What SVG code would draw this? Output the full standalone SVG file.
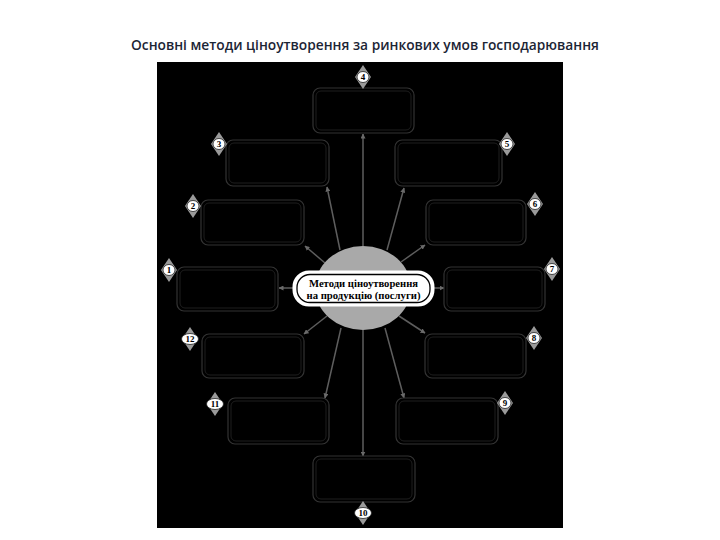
<svg xmlns="http://www.w3.org/2000/svg" width="720" height="540" viewBox="0 0 720 540">
<defs>
<style>
.title{font-family:"Open Sans","Liberation Sans",sans-serif;font-size:15px;font-weight:600;fill:#1c2535}
.box{fill:#000;stroke:#333;stroke-width:1.2}
.inner{fill:none;stroke:#1e1e1e;stroke-width:1}
.conn{stroke:#5e5e5e;stroke-width:1.5;fill:none}
.dia{fill:#9a9a9a}
.oval{fill:#fff;stroke:#222;stroke-width:0.8}
.num{font-family:"Liberation Serif",serif;font-size:9px;font-weight:bold;fill:#000;text-anchor:middle}
.lbl{font-family:"Liberation Serif",serif;font-size:11px;font-weight:bold;fill:#000;text-anchor:middle}
</style>
<marker id="arr" viewBox="0 0 10 10" refX="9" refY="5" markerWidth="5" markerHeight="5" orient="auto" markerUnits="userSpaceOnUse">
<path d="M0,0 L10,5 L0,10 z" fill="#6a6a6a"/>
</marker>
<g id="badge">
<path d="M0,-12 L8,0 L0,12 L-8,0 z" class="dia"/>
</g>
</defs>
<rect width="720" height="540" fill="#fff"/>
<text class="title" x="365" y="50" text-anchor="middle" textLength="468" lengthAdjust="spacingAndGlyphs">Основні методи ціноутворення за ринкових умов господарювання</text>
<rect x="157" y="62" width="406" height="466" fill="#000"/>

<g id="connectors">
<line class="conn" x1="363" y1="246" x2="363" y2="134" marker-end="url(#arr)"/>
<line class="conn" x1="363" y1="330" x2="363" y2="456" marker-end="url(#arr)"/>
<line class="conn" x1="340" y1="250" x2="327" y2="187" marker-end="url(#arr)"/>
<line class="conn" x1="387" y1="250" x2="404" y2="188" marker-end="url(#arr)"/>
<line class="conn" x1="325" y1="263" x2="305" y2="246" marker-end="url(#arr)"/>
<line class="conn" x1="401" y1="262" x2="425" y2="245" marker-end="url(#arr)"/>
<line class="conn" x1="294" y1="288" x2="279" y2="288" marker-end="url(#arr)"/>
<line class="conn" x1="433" y1="288" x2="444" y2="288" marker-end="url(#arr)"/>
<line class="conn" x1="327" y1="316" x2="304" y2="334" marker-end="url(#arr)"/>
<line class="conn" x1="399" y1="316" x2="425" y2="333" marker-end="url(#arr)"/>
<line class="conn" x1="341" y1="328" x2="325" y2="398" marker-end="url(#arr)"/>
<line class="conn" x1="385" y1="328" x2="404" y2="398" marker-end="url(#arr)"/>
</g>

<g id="center">
<ellipse cx="363" cy="288" rx="48" ry="42" fill="#a9a9a9"/>
<rect x="294" y="272" width="139" height="33" rx="15" fill="#fff" stroke="#fff" stroke-width="3"/>
<rect x="297" y="274.5" width="133" height="28" rx="13" fill="#fff" stroke="#000" stroke-width="1.3"/>
<text class="lbl" x="363.5" y="287" textLength="109" lengthAdjust="spacingAndGlyphs">Методи ціноутворення</text>
<text class="lbl" x="363.5" y="298.5" textLength="114" lengthAdjust="spacingAndGlyphs">на продукцію (послуги)</text>
</g>

<g id="node1"><rect class="box" x="177" y="267" width="101" height="44" rx="7"/><rect class="inner" x="180" y="270" width="95" height="38" rx="5"/></g>
<g id="node2"><rect class="box" x="201" y="200" width="103" height="45" rx="7"/><rect class="inner" x="204" y="203" width="97" height="39" rx="5"/></g>
<g id="node3"><rect class="box" x="226" y="140" width="103" height="46" rx="7"/><rect class="inner" x="229" y="143" width="97" height="40" rx="5"/></g>
<g id="node4"><rect class="box" x="313" y="88" width="101" height="45" rx="7"/><rect class="inner" x="316" y="91" width="95" height="39" rx="5"/></g>
<g id="node5"><rect class="box" x="395" y="140" width="107" height="46" rx="7"/><rect class="inner" x="398" y="143" width="101" height="40" rx="5"/></g>
<g id="node6"><rect class="box" x="426" y="200" width="100" height="45" rx="7"/><rect class="inner" x="429" y="203" width="94" height="39" rx="5"/></g>
<g id="node7"><rect class="box" x="444" y="267" width="101" height="44" rx="7"/><rect class="inner" x="447" y="270" width="95" height="38" rx="5"/></g>
<g id="node8"><rect class="box" x="425" y="334" width="101" height="44" rx="7"/><rect class="inner" x="428" y="337" width="95" height="38" rx="5"/></g>
<g id="node9"><rect class="box" x="396" y="398" width="102" height="46" rx="7"/><rect class="inner" x="399" y="401" width="96" height="40" rx="5"/></g>
<g id="node10"><rect class="box" x="313" y="456" width="102" height="46" rx="7"/><rect class="inner" x="316" y="459" width="96" height="40" rx="5"/></g>
<g id="node11"><rect class="box" x="228" y="398" width="101" height="46" rx="7"/><rect class="inner" x="231" y="401" width="95" height="40" rx="5"/></g>
<g id="node12"><rect class="box" x="202" y="334" width="102" height="44" rx="7"/><rect class="inner" x="205" y="337" width="96" height="38" rx="5"/></g>

<g id="badges">
<g transform="translate(169,270)"><use href="#badge"/><ellipse class="oval" rx="6" ry="5.5"/><text class="num" y="3.2">1</text></g>
<g transform="translate(193,206)"><use href="#badge"/><ellipse class="oval" rx="6" ry="5.5"/><text class="num" y="3.2">2</text></g>
<g transform="translate(219,144)"><use href="#badge"/><ellipse class="oval" rx="6" ry="5.5"/><text class="num" y="3.2">3</text></g>
<g transform="translate(363,77)"><use href="#badge"/><ellipse class="oval" rx="6" ry="5.5"/><text class="num" y="3.2">4</text></g>
<g transform="translate(507,144)"><use href="#badge"/><ellipse class="oval" rx="6" ry="5.5"/><text class="num" y="3.2">5</text></g>
<g transform="translate(535,204)"><use href="#badge"/><ellipse class="oval" rx="6" ry="5.5"/><text class="num" y="3.2">6</text></g>
<g transform="translate(552,269)"><use href="#badge"/><ellipse class="oval" rx="6" ry="5.5"/><text class="num" y="3.2">7</text></g>
<g transform="translate(534,338)"><use href="#badge"/><ellipse class="oval" rx="6" ry="5.5"/><text class="num" y="3.2">8</text></g>
<g transform="translate(505,403)"><use href="#badge"/><ellipse class="oval" rx="6" ry="5.5"/><text class="num" y="3.2">9</text></g>
<g transform="translate(363,513)"><use href="#badge"/><ellipse class="oval" rx="8.5" ry="5.5"/><text class="num" y="3.2">10</text></g>
<g transform="translate(215,404)"><use href="#badge"/><ellipse class="oval" rx="8.5" ry="5.5"/><text class="num" y="3.2">11</text></g>
<g transform="translate(190,339)"><use href="#badge"/><ellipse class="oval" rx="8.5" ry="5.5"/><text class="num" y="3.2">12</text></g>
</g>
</svg>
